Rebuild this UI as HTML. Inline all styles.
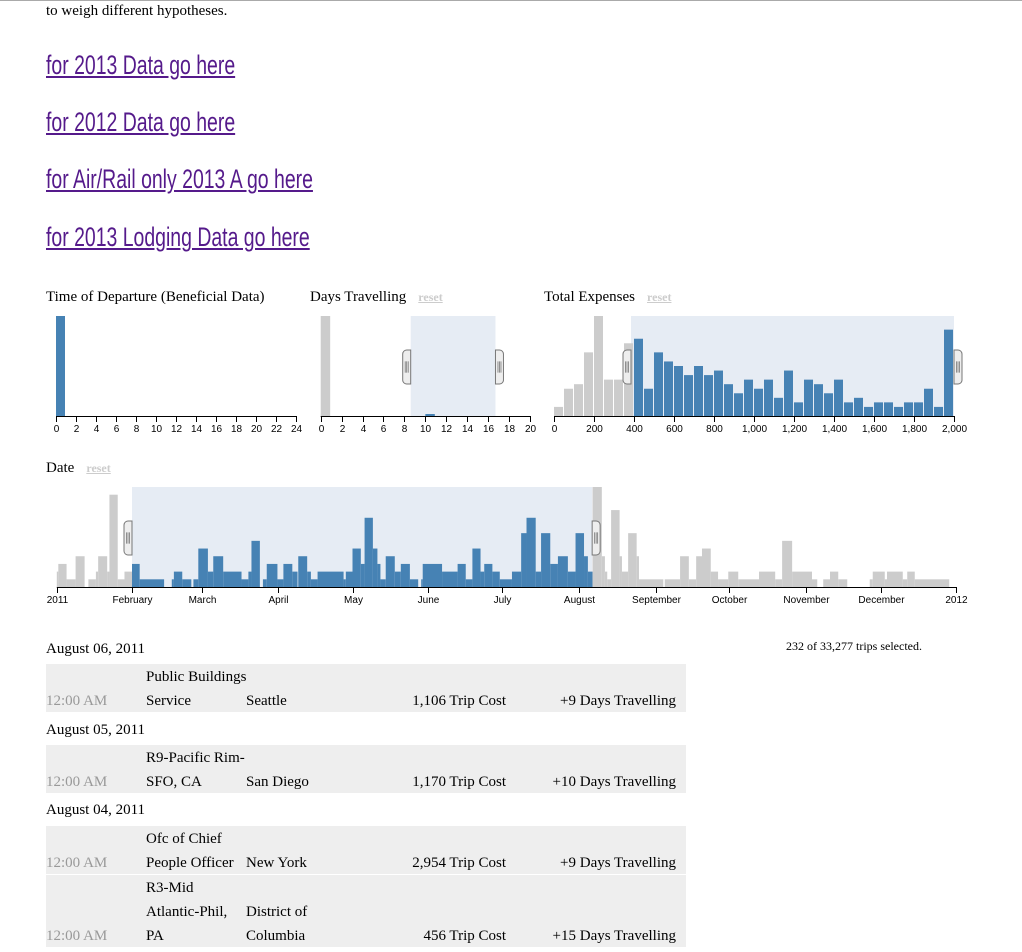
<!DOCTYPE html>
<html><head><meta charset="utf-8">
<style>
body{margin:0;width:1022px;height:952px;overflow:hidden;background:#fff;font-family:"Liberation Serif",serif;color:#000;position:relative}
.abs{position:absolute;white-space:nowrap}
.lnk{position:absolute;left:46px;font-family:"Liberation Sans",sans-serif;font-size:27px;color:#551a8b;text-decoration:underline;transform:scaleX(0.72);transform-origin:left top;white-space:nowrap;line-height:30px}
.title{font-size:15px}
.reset{font-family:"Liberation Serif",serif;font-weight:bold;font-size:12px;color:#ccc;text-decoration:underline;margin-left:12px}
.row{position:absolute;left:46px;width:640px;background:#eee}
.cell{position:absolute;font-size:15px;white-space:nowrap}
svg text{font-family:"Liberation Sans",sans-serif;font-size:10px}
</style></head><body>
<div class="abs" style="left:0;top:0;width:1022px;height:1px;background:#aaa"></div>
<div class="abs" style="left:46px;top:3px;font-size:15px">to weigh different hypotheses.</div>
<a class="lnk" style="top:50px">for 2013 Data go here</a>
<a class="lnk" style="top:107px">for 2012 Data go here</a>
<a class="lnk" style="top:164px">for Air/Rail only 2013 A go here</a>
<a class="lnk" style="top:222px">for 2013 Lodging Data go here</a>

<div class="abs title" style="left:46px;top:289px">Time of Departure (Beneficial Data)</div>
<div class="abs title" style="left:310px;top:289px">Days Travelling<span class="reset">reset</span></div>
<div class="abs title" style="left:544px;top:289px">Total Expenses<span class="reset">reset</span></div>
<div class="abs title" style="left:46px;top:460px">Date<span class="reset">reset</span></div>

<svg id="charts" width="1022" height="620" style="position:absolute;left:0;top:0"></svg>

<div class="abs" style="left:786px;top:639px;font-size:12px">232 of 33,277 trips selected.</div>

<div class="abs" style="left:46px;top:641px;font-size:15px">August 06, 2011</div>
<div class="row" style="top:664px;height:48px">
<div class="cell" style="left:0;top:29px;color:#999">12:00 AM</div>
<div class="cell" style="left:100px;top:5px">Public Buildings</div>
<div class="cell" style="left:100px;top:29px">Service</div>
<div class="cell" style="left:200px;top:29px">Seattle</div>
<div class="cell" style="right:180px;top:29px">1,106 Trip Cost</div>
<div class="cell" style="right:10px;top:29px">+9 Days Travelling</div>
</div>
<div class="abs" style="left:46px;top:722px;font-size:15px">August 05, 2011</div>
<div class="row" style="top:745px;height:48px">
<div class="cell" style="left:0;top:29px;color:#999">12:00 AM</div>
<div class="cell" style="left:100px;top:5px">R9-Pacific Rim-</div>
<div class="cell" style="left:100px;top:29px">SFO, CA</div>
<div class="cell" style="left:200px;top:29px">San Diego</div>
<div class="cell" style="right:180px;top:29px">1,170 Trip Cost</div>
<div class="cell" style="right:10px;top:29px">+10 Days Travelling</div>
</div>
<div class="abs" style="left:46px;top:802px;font-size:15px">August 04, 2011</div>
<div class="row" style="top:826px;height:48px">
<div class="cell" style="left:0;top:29px;color:#999">12:00 AM</div>
<div class="cell" style="left:100px;top:5px">Ofc of Chief</div>
<div class="cell" style="left:100px;top:29px">People Officer</div>
<div class="cell" style="left:200px;top:29px">New York</div>
<div class="cell" style="right:180px;top:29px">2,954 Trip Cost</div>
<div class="cell" style="right:10px;top:29px">+9 Days Travelling</div>
</div>
<div class="row" style="top:875px;height:72px">
<div class="cell" style="left:0;top:53px;color:#999">12:00 AM</div>
<div class="cell" style="left:100px;top:5px">R3-Mid</div>
<div class="cell" style="left:100px;top:29px">Atlantic-Phil,</div>
<div class="cell" style="left:100px;top:53px">PA</div>
<div class="cell" style="left:200px;top:29px">District of</div>
<div class="cell" style="left:200px;top:53px">Columbia</div>
<div class="cell" style="right:180px;top:53px">456 Trip Cost</div>
<div class="cell" style="right:10px;top:53px">+15 Days Travelling</div>
</div>

<script>
// Departure hours chart
const hourBins=[0];
const hourCounts=[1];
const hourTicks=[0,2,4,6,8,10,12,14,16,18,20,22,24];
// Days travelling
const dayBins=[0,10];
const dayCounts=[100,2];
const dayTicks=[0,2,4,6,8,10,12,14,16,18,20];
const dayBrush=[8.6,16.7];
// Total expenses (bins of 50)
const expBins=[0,50,100,150,200,250,300,350,400,450,500,550,600,650,700,750,800,850,900,950,1000,1050,1100,1150,1200,1250,1300,1350,1400,1450,1500,1550,1600,1650,1700,1750,1800,1850,1900,1950];
const expCounts=[2,6,7,14,22,8,8,16,17,6,14,12,11,9,11,9,10,7,5,8,6,8,4,10,3,8,7,5,8,3,4,2,3,3,2,3,3,6,2,19];
const expTicks=[0,200,400,600,800,1000,1200,1400,1600,1800,2000];
const expBrush=[385,2000];
// Date chart: run starts in month units (0=Jan 1), counts
const dateStarts=[0,0.02,0.13,0.25,0.37,0.42,0.52,0.55,0.67,0.70,0.81,0.90,1.00,1.11,1.46,1.57,1.60,1.72,1.85,1.88,1.95,2.08,2.15,2.28,2.52,2.61,2.65,2.76,2.80,2.85,2.99,3.07,3.19,3.26,3.27,3.39,3.44,3.53,3.88,3.91,4.00,4.11,4.16,4.27,4.33,4.37,4.44,4.56,4.64,4.76,4.87,4.91,4.93,5.19,5.40,5.51,5.60,5.71,5.76,5.87,5.97,6.13,6.25,6.32,6.44,6.51,6.63,6.73,6.86,6.96,7.07,7.12,7.18,7.30,7.34,7.37,7.42,7.53,7.56,7.64,7.75,7.78,8.10,8.12,8.33,8.45,8.55,8.63,8.75,8.85,8.99,9.12,9.39,9.60,9.69,9.82,10.08,10.15,10.23,10.32,10.43,10.55,10.85,10.89,11.05,11.08,11.29,11.35,11.45,11.91];
const dateCounts=[2,3,1,4,0,1,2,4,2,12,1,2,3,1,0,1,2,1,0,1,5,2,4,2,1,2,6,0,1,3,1,3,2,0,4,2,1,2,1,2,5,3,9,5,3,1,4,2,3,1,0,1,3,2,3,1,5,2,3,2,1,2,7,9,2,7,3,4,2,7,4,2,13,4,2,1,10,4,2,7,4,1,0,1,4,1,4,5,2,1,2,1,2,1,6,2,1,0,1,2,1,0,1,2,1,2,1,2,1,0];
const monthTicks=["2011","February","March","April","May","June","July","August","September","October","November","December","2012"];
const dateBrush=[1.0,7.175];

const NS="http://www.w3.org/2000/svg";
const svg=document.getElementById('charts');
function mk(tag,attrs,parent){const e=document.createElementNS(NS,tag);for(const k in attrs)e.setAttribute(k,attrs[k]);(parent||svg).appendChild(e);return e;}
const BLUE="#4682b4",GREY="#ccc",BRUSH="#e6ecf4";

function handle(g,x,yTop,h,side){
  const w=8;const x0=side<0?x-w:x;
  const p=mk('path',{d:side<0?`M${x} ${yTop} h-4 a4 4 0 0 0 -4 4 v${h-8} a4 4 0 0 0 4 4 h4 Z`:`M${x} ${yTop} h4 a4 4 0 0 1 4 4 v${h-8} a4 4 0 0 1 -4 4 h-4 Z`,fill:"#eee",stroke:"#777","stroke-width":1},g);
  
  
  for(let i=0;i<3;i++){mk('line',{x1:x0+2.5+i*1.5,x2:x0+2.5+i*1.5,y1:yTop+h/3,y2:yTop+2*h/3,stroke:"#777","stroke-width":0.8},g);}
}
function axis(g,ticks,labels,sx,y){
  const a=mk('line',{x1:sx(ticks[0]),x2:sx(ticks[ticks.length-1]),y1:y+0.5,y2:y+0.5,stroke:"#000"},g);
  
  
  ticks.forEach((t,i)=>{
    const x=Math.round(sx(t))+0.5;
    mk('line',{x1:x,x2:x,y1:y,y2:y+6,stroke:"#000"},g);
    const tx=mk('text',{x:x,y:y+16,'text-anchor':'middle'},g);
    tx.textContent=labels[i];
    
    
  });
}
function barChart(name,x0,x1,d0,d1,base,h,bins,counts,binW,maxC,ticks,labels,brush){
  const g=mk('g',{});
  
  
  const sx=v=>x0+(v-d0)/(d1-d0)*(x1-x0);
  const sy=c=>base-c/maxC*h;
  if(brush){const b=mk('rect',{x:sx(brush[0]),y:base-h,width:sx(brush[1])-sx(brush[0]),height:h,fill:BRUSH},g);
    }
  bins.forEach((b,i)=>{
    const c=counts[i];if(!c)return;
    const inside=!brush||(b>=brush[0]&&b<brush[1]);
    const r=mk('rect',{x:sx(b),y:sy(c),width:sx(b+binW)-sx(b)-1,height:base-sy(c),fill:inside?BLUE:GREY},g);
    
    
  });
  axis(g,ticks,labels,sx,base);
  if(brush){handle(g,sx(brush[0]),base-66,34,-1);handle(g,sx(brush[1]),base-66,34,1);}
}
barChart('departure-chart',56,296,0,24,416,100,hourBins,hourCounts,1,1,hourTicks,hourTicks,null);
barChart('days-chart',320.7,530,0,20,416,100,dayBins,dayCounts,1,100,dayTicks,dayTicks,dayBrush);
barChart('expenses-chart',554,954,0,2000,416,100,expBins,expCounts,50,22,expTicks,expTicks.map(v=>v.toLocaleString('en-US')),expBrush);

// Date chart with piecewise month scale
const monthPx=[56.8,132,201.8,278.2,352.5,428,502,578.6,656,729,806,881,956];
function sxDate(m){const i=Math.min(11,Math.floor(m));return monthPx[i]+(m-i)*(monthPx[i+1]-monthPx[i]);}
(function(){
  const g=mk('g',{});
  
  
  const base=587,h=100,maxC=13;
  const b=mk('rect',{x:sxDate(dateBrush[0]),y:base-h,width:sxDate(dateBrush[1])-sxDate(dateBrush[0]),height:h,fill:BRUSH},g);
  
  
  dateStarts.forEach((s,i)=>{
    const c=dateCounts[i];if(!c)return;
    const e=i+1<dateStarts.length?dateStarts[i+1]:12;
    const inside=s>=dateBrush[0]&&s<dateBrush[1];
    const r=mk('rect',{x:sxDate(s),y:base-c/maxC*h,width:Math.max(1,sxDate(e)-sxDate(s)),height:c/maxC*h,fill:inside?BLUE:GREY},g);
    
    
  });
  const idx=monthTicks.map((_,i)=>i);
  axis(g,idx,monthTicks,sxDate,base);
  handle(g,sxDate(dateBrush[0]),base-66,34,-1);
  handle(g,sxDate(dateBrush[1]),base-66,34,1);
})();
</script>
</body></html>
